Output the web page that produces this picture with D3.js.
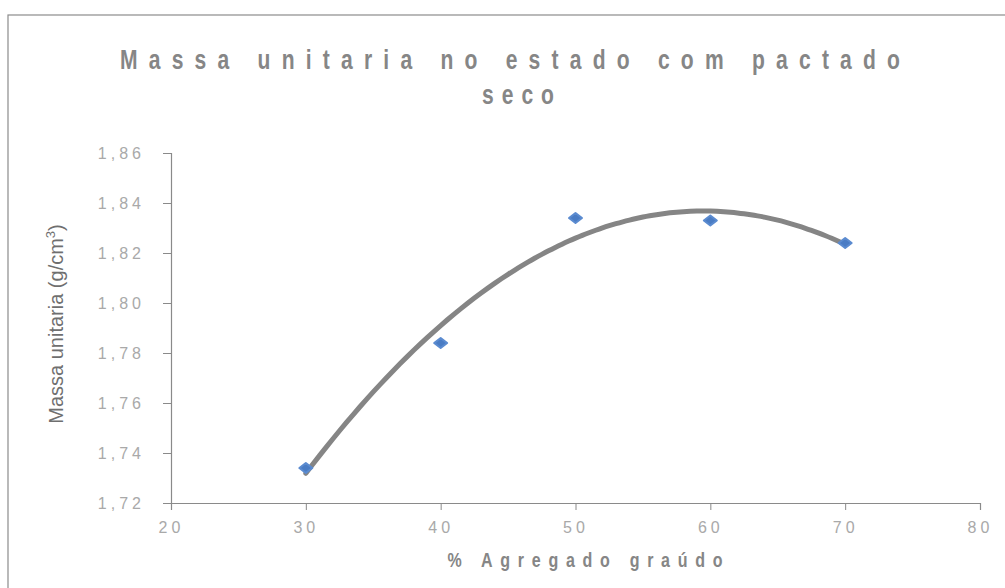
<!DOCTYPE html>
<html>
<head>
<meta charset="utf-8">
<script src="https://cdn.jsdelivr.net/npm/d3@7"></script>
<style>
  html, body { margin: 0; padding: 0; background: #fff; }
  svg { display: block; }
</style>
</head>
<body>
<svg id="chart" width="1005" height="588"></svg>
<script>
// Aggregate proportion (%) and unit mass in the dry compacted state (g/cm3)
const agregado = [30, 40, 50, 60, 70];
const massa = [1.734, 1.784, 1.834, 1.833, 1.824];
const xTicks = [20, 30, 40, 50, 60, 70, 80];
const yTicks = [1.72, 1.74, 1.76, 1.78, 1.80, 1.82, 1.84, 1.86];

const svg = d3.select("#chart");
const W = 1005, H = 588;
const plot = { left: 171, right: 980, top: 153, bottom: 503 };
const FONT = "'Liberation Sans', Arial, sans-serif";

// chart frame (runs off the right and bottom edges)
svg.append("rect")
  .attr("x", 8).attr("y", 15).attr("width", W + 20).attr("height", H + 20)
  .attr("fill", "#fff").attr("stroke", "#8c8c8c").attr("stroke-width", 1.2);

const x = d3.scaleLinear().domain([20, 80]).range([plot.left, plot.right]);
const y = d3.scaleLinear().domain([1.72, 1.86]).range([plot.bottom, plot.top]);

const fmt = v => d3.format(".2f")(v).replace(".", ",");

// y axis
const yAxis = svg.append("g")
  .attr("transform", `translate(${plot.left},0)`)
  .call(d3.axisLeft(y).tickValues(yTicks).tickSize(8).tickPadding(18).tickFormat(fmt));
// x axis
const xAxis = svg.append("g")
  .attr("transform", `translate(0,${plot.bottom})`)
  .call(d3.axisBottom(x).tickValues(xTicks).tickSize(7).tickPadding(12).tickFormat(d3.format("d")));

[yAxis, xAxis].forEach(g => {
  g.select(".domain").attr("stroke", "#8a8a8a").attr("stroke-width", 1.2);
  g.selectAll(".tick line").attr("stroke", "#8a8a8a");
  g.selectAll("text")
    .attr("fill", "#a9a9a9")
    .style("font-family", FONT)
    .style("font-size", "16px")
    .style("letter-spacing", "4px");
});

// second-order polynomial trend line (least squares)
function polyFit2(xs, ys) {
  const n = xs.length;
  let s = [0, 0, 0, 0, 0], t = [0, 0, 0];
  for (let i = 0; i < n; i++) {
    let p = 1;
    for (let k = 0; k < 5; k++) { s[k] += p; if (k < 3) t[k] += p * ys[i]; p *= xs[i]; }
  }
  const A = [[s[0], s[1], s[2], t[0]], [s[1], s[2], s[3], t[1]], [s[2], s[3], s[4], t[2]]];
  for (let c = 0; c < 3; c++) {
    for (let r = c + 1; r < 3; r++) {
      const f = A[r][c] / A[c][c];
      for (let k = c; k < 4; k++) A[r][k] -= f * A[c][k];
    }
  }
  const b = [0, 0, 0];
  for (let r = 2; r >= 0; r--) {
    let v = A[r][3];
    for (let k = r + 1; k < 3; k++) v -= A[r][k] * b[k];
    b[r] = v / A[r][r];
  }
  return xv => b[0] + b[1] * xv + b[2] * xv * xv;
}
const trend = polyFit2(agregado, massa);
const trendPts = d3.range(d3.min(agregado), d3.max(agregado) + 0.01, 0.5).map(v => [v, trend(v)]);

svg.append("path")
  .datum(trendPts)
  .attr("fill", "none")
  .attr("stroke", "#858585")
  .attr("stroke-width", 5)
  .attr("stroke-linecap", "round")
  .attr("d", d3.line().x(d => x(d[0])).y(d => y(d[1])).curve(d3.curveMonotoneX));

// data markers
svg.append("g").selectAll("path")
  .data(agregado.map((v, i) => [v, massa[i]]))
  .join("path")
  .attr("transform", d => `translate(${x(d[0])},${y(d[1])})`)
  .attr("d", "M0,-5 L6.5,0 L0,5 L-6.5,0 Z")
  .attr("fill", "#4a7cc4")
  .attr("stroke", "#5b8bd0")
  .attr("stroke-width", 2)
  .attr("stroke-linejoin", "round");

// spaced-out condensed text helper
function spacedText(cx, cy, str, size, width, sx, opts = {}) {
  return svg.append("text")
    .attr("transform", `translate(${cx},${cy}) scale(${sx},1)`)
    .attr("text-anchor", "middle")
    .attr("fill", opts.fill || "#868686")
    .attr("textLength", width / sx)
    .attr("lengthAdjust", "spacing")
    .style("font-family", FONT)
    .style("font-size", size + "px")
    .style("font-weight", opts.weight || "bold")
    .text(str);
}

// titles
spacedText(510, 69, "Massa unitaria no estado com pactado", 27, 780, 0.78);
spacedText(518, 104, "seco", 27, 72, 0.78);
spacedText(585, 567, "% Agregado graúdo", 20, 275, 0.8);

const yt = svg.append("text")
  .attr("transform", `translate(63,${(plot.top + plot.bottom) / 2 - 4}) rotate(-90)`)
  .attr("text-anchor", "middle")
  .attr("fill", "#6f6f6f")
  .style("font-family", FONT)
  .style("font-size", "20px");
yt.append("tspan").text("Massa unitaria (g/cm");
yt.append("tspan").attr("dy", -8).style("font-size", "13px").text("3");
yt.append("tspan").attr("dy", 8).text(")");
</script>
</body>
</html>
